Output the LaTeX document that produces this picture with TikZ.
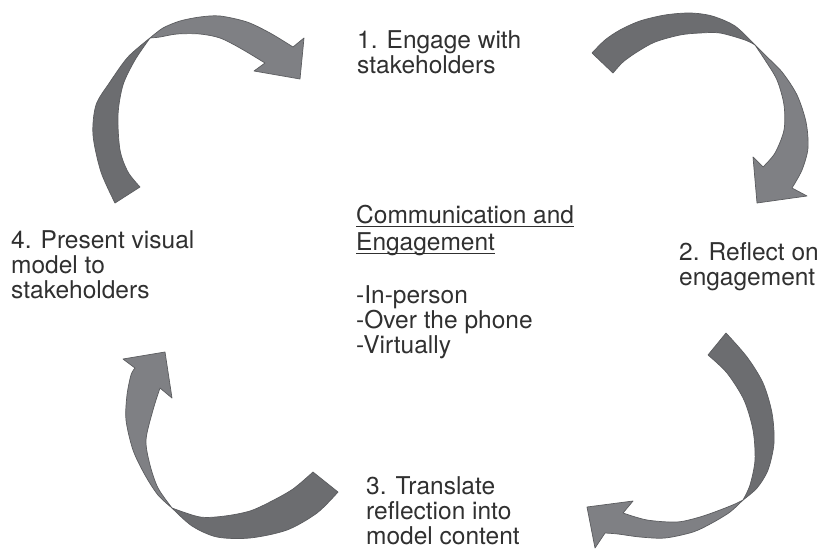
\documentclass[tikz,border=0pt]{standalone}
\usepackage{fontspec}
\setmainfont{TeX Gyre Heros}
\definecolor{bandback}{HTML}{6C6D70}
\definecolor{bandfront}{HTML}{7F8084}
\definecolor{bandedge}{HTML}{5B5C5F}
\definecolor{txt}{HTML}{303030}
% underlined text with a rule that sits just under the baseline
\newcommand\ulinetext[1]{\setbox0\hbox{#1}\rlap{\rule[-4pt]{\wd0}{0.9pt}}\box0}
\begin{document}
\begin{tikzpicture}[x=1pt,y=-1pt,
  lbl/.style={anchor=base west, inner sep=0pt, align=left, text=txt,
              font=\fontsize{24.5}{25}\selectfont},
  backband/.style={fill=bandback, draw=bandedge, line width=0.7pt, line join=round},
  frontband/.style={fill=bandfront, draw=bandedge, line width=0.7pt, line join=round}]
\useasboundingbox (0,0) rectangle (822,549);

% ---- arrow from step 4 to step 1 (top left)
\draw[backband] plot[smooth] coordinates {(115,203) (101,172) (93,135) (96,105) (110,82) (128,57) (150,38)}
  -- plot[smooth] coordinates {(150,38) (135,60) (123,85) (118,115) (120,150) (128,172) (140,187)} -- cycle;
\draw[frontband] plot[smooth] coordinates {(150,38) (163,28) (180,21) (200,17) (220,16) (247,22) (270,33) (293,47)}
  -- (304,38) -- (300,79) -- (254,71)
  -- plot[smooth] coordinates {(265,63) (240,48) (220,38) (200,34) (177,34) (160,37) (150,38)} -- cycle;

% ---- arrow from step 1 to step 2 (top right)
\draw[backband] plot[smooth] coordinates {(592,53) (605,40) (620,30) (640,21) (665,15) (690,13) (712,16) (735,26) (755,45)}
  -- plot[smooth] coordinates {(755,45) (745,40) (720,33) (700,33) (680,35) (655,42) (637,52) (623,62) (613,73)} -- cycle;
\draw[frontband] plot[smooth] coordinates {(755,45) (765,55) (782,72) (797,95) (806,122) (808,148) (802,170) (792,188)}
  -- (807,196) -- (757,203) -- (753,157)
  -- plot[smooth] coordinates {(763,167) (775,153) (784,130) (784,105) (777,80) (765,60) (755,45)} -- cycle;

% ---- arrow from step 2 to step 3 (bottom right)
\draw[backband] plot[smooth] coordinates {(726,333) (747,357) (763,383) (772,413) (774,443) (768,470) (757,488) (743,500)}
  -- plot[smooth] coordinates {(743,500) (750,485) (755,460) (753,430) (744,400) (727,373) (708,355)} -- cycle;
\draw[frontband] plot[smooth] coordinates {(743,500) (730,512) (712,523) (693,532) (665,538) (640,537) (618,534) (605,533)}
  -- (595,548) -- (587,507) -- (633,501)
  -- plot[smooth] coordinates {(623,513) (647,520) (677,522) (700,517) (720,510) (735,504) (743,500)} -- cycle;

% ---- arrow from step 3 to step 4 (bottom left)
\draw[backband] plot[smooth] coordinates {(338,492) (317,513) (287,530) (250,538) (217,537) (192,526) (172,508)}
  -- plot[smooth] coordinates {(172,508) (200,517) (225,516) (250,511) (270,502) (293,489) (313,472)} -- cycle;
\draw[frontband] plot[smooth] coordinates {(172,508) (158,495) (145,475) (133,450) (126,420) (127,395) (131,375) (135,368)}
  -- (123,359) -- (165,352) -- (172,398)
  -- plot[smooth] coordinates {(160,388) (153,410) (146,440) (150,465) (158,488) (172,508)} -- cycle;

% ---- step labels (anchored on the baseline of their last line)
\node[lbl] (s1) at (357,73) {1. Engage with\\stakeholders};
\node[lbl] (s2) at (679,285) {2. Reflect on\\engagement};
\node[lbl] (s3) at (366,544) {3. Translate\\reflection into\\model content};
\node[lbl] (s4) at (11,298) {4. Present visual\\model to\\stakeholders};

% ---- centre text
\node[lbl] (title) at (356,250) {\ulinetext{Communication and}\\[2pt]\ulinetext{Engagement}};
\node[lbl] (modes) at (356,353) {-In-person\\-Over the phone\\-Virtually};
\end{tikzpicture}
\end{document}
